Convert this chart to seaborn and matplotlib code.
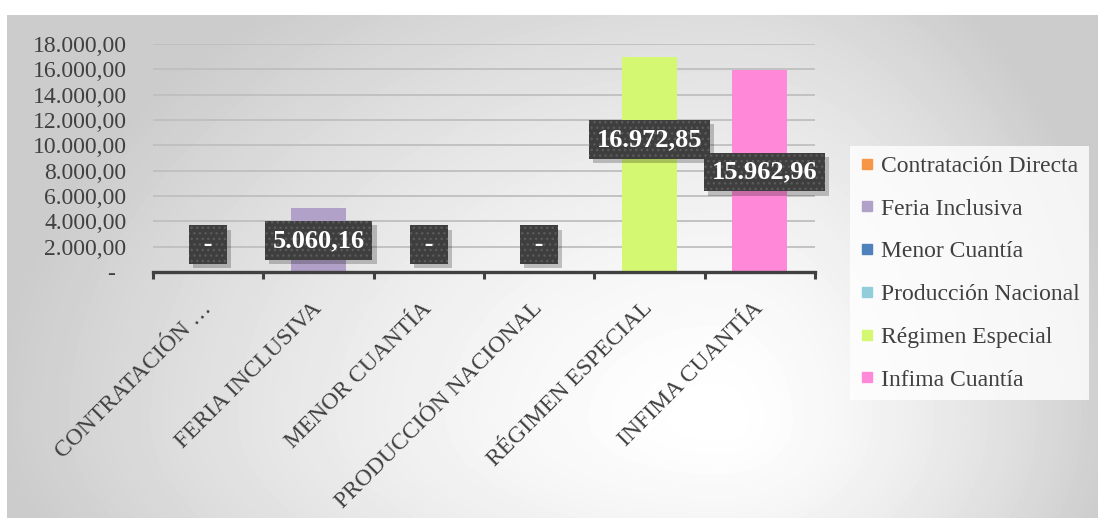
import numpy as np
import pandas as pd
import matplotlib
matplotlib.use("Agg")
import matplotlib.pyplot as plt
import matplotlib.patheffects as pe
from matplotlib.lines import Line2D
from matplotlib.ticker import FuncFormatter
import seaborn as sns

# ---- data -------------------------------------------------------------
categories = ["Contratación Directa", "Feria Inclusiva", "Menor Cuantía",
              "Producción Nacional", "Régimen Especial", "Infima Cuantía"]
amounts = [0.0, 5060.16, 0.0, 0.0, 16972.85, 15962.96]
tick_labels = ["CONTRATACIÓN …", "FERIA INCLUSIVA", "MENOR CUANTÍA",
               "PRODUCCIÓN NACIONAL", "RÉGIMEN ESPECIAL", "INFIMA CUANTÍA"]
y_ticks = [0, 2000, 4000, 6000, 8000, 10000, 12000, 14000, 16000, 18000]
colors = ["#F79646", "#B1A0C7", "#4F81BD", "#92CDDC", "#D4F872", "#FF88D8"]

# ---- placement of the value boxes (x shift in categories, y in data units)
label_dx = [0, 0, 0, 0, 0, 0.04]
label_y = [2150, 2500, 2150, 2150, 10450, 7900]

TEXT = "#404040"
W, H = 1098, 518

plt.rcParams["font.family"] = ["Liberation Serif", "DejaVu Serif"]
plt.rcParams["hatch.linewidth"] = 1.0


def fmt_es(v):
    if v == 0:
        return "-"
    s = f"{v:,.2f}"
    return s.replace(",", "#").replace(".", ",").replace("#", ".")


class BoxShadow(pe.AbstractPathEffect):
    """Plain offset shadow for a patch (drawn without its hatch)."""

    def __init__(self, offset=(3, -3), alpha=0.25):
        super().__init__(offset)
        self.alpha = alpha

    def draw_path(self, renderer, gc, tpath, affine, rgbFace=None):
        gc0 = renderer.new_gc()
        gc0.copy_properties(gc)
        gc0.set_hatch(None)
        gc0.set_linewidth(0)
        renderer.draw_path(gc0, tpath, affine + self._offset_transform(renderer),
                           (0, 0, 0, self.alpha))
        gc0.restore()


fig = plt.figure(figsize=(W / 100, H / 100), dpi=100, facecolor="white")

# soft radial background of the chart area
bg = fig.add_axes([7 / W, 0, 1 - 7 / W, 1 - 15 / H], zorder=-10)
yy, xx = np.mgrid[15:H, 7:W].astype(float)
cx, cy = 720.0, 420.0
sx = np.where(xx < cx, 720.0, 400.0)
sy = np.where(yy < cy, 520.0, 300.0)
t = np.sqrt(((xx - cx) / sx) ** 2 + ((yy - cy) / sy) ** 2)
shade = 1 - 0.2 * np.clip(t, 0, 1) ** 1.5
bg.imshow(shade, cmap="gray", vmin=0, vmax=1, aspect="auto",
          extent=(0, 1, 0, 1), interpolation="bilinear")
bg.set_axis_off()

# ---- bars -------------------------------------------------------------
ax = fig.add_axes([153 / W, 1 - 272 / H, (815 - 153) / W, (272 - 44) / H])
ax.set_facecolor("none")
df = pd.DataFrame({"category": categories, "amount": amounts})
sns.barplot(data=df, x="category", y="amount", hue="category",
            order=categories, hue_order=categories, palette=colors,
            width=0.5, dodge=False, legend=False, saturation=1,
            edgecolor="none", ax=ax, zorder=3)

ax.set_xlim(-0.5, len(categories) - 0.5)
ax.set_ylim(0, 18000)
ax.set_xlabel("")
ax.set_ylabel("")

# y axis: gridlines and accounting-style labels
ax.set_yticks(y_ticks)
ax.yaxis.set_major_formatter(FuncFormatter(lambda v, p: fmt_es(v)))
ax.tick_params(axis="y", length=0, pad=19, labelsize=17, labelcolor=TEXT)
ax.yaxis.get_major_ticks()[0].set_pad(27)
ax.yaxis.grid(True, color="#BFBFBF", linewidth=1.3)
ax.xaxis.grid(False)
ax.set_axisbelow(True)

# x axis: category labels and boundary tick marks
ax.set_xticks(range(len(categories)))
ax.set_xticklabels(tick_labels, rotation=45, ha="right", va="center",
                   rotation_mode="anchor")
ax.tick_params(axis="x", which="major", length=0, pad=24, labelsize=17,
               labelcolor=TEXT)
ax.set_xticks(np.arange(-0.5, len(categories), 1), minor=True)
ax.tick_params(axis="x", which="minor", length=5, width=2.2, color=TEXT,
               direction="out")

for side in ("left", "right", "top"):
    ax.spines[side].set_visible(False)
ax.spines["bottom"].set_color(TEXT)
ax.spines["bottom"].set_linewidth(2.4)
ax.spines["bottom"].set_zorder(4)

# ---- value boxes -------------------------------------------------------
for i, v in enumerate(amounts):
    s = fmt_es(v)
    if s == "-":
        s = " - "
    txt = ax.text(i + label_dx[i], label_y[i], s, ha="center", va="center",
                  fontsize=19, fontweight="bold", color="white", zorder=6,
                  bbox=dict(boxstyle="square,pad=0.3", fc="#3E3E3E",
                            ec="#5A5A5A", lw=0, hatch="..."))
    txt.get_bbox_patch().set_path_effects([BoxShadow((3, -3), 0.22),
                                           pe.Normal()])

# ---- legend ------------------------------------------------------------
handles = [Line2D([], [], marker="s", linestyle="", color=c, markersize=6.5)
           for c in colors]
leg = fig.legend(handles, categories, loc="center left",
                 bbox_to_anchor=(850 / W, 1 - 273 / H), frameon=True,
                 fancybox=False, fontsize=17, labelcolor=TEXT,
                 handlelength=0.6, handletextpad=0.3, labelspacing=0.9,
                 borderpad=0.4, borderaxespad=0)
leg.get_frame().set_facecolor((1, 1, 1, 0.25))
leg.get_frame().set_edgecolor("none")

fig.savefig("out.png", dpi=100, facecolor="white")
